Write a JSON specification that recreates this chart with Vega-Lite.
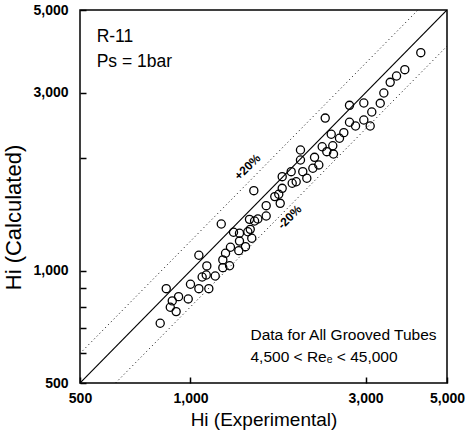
{
  "$schema": "https://vega.github.io/schema/vega-lite/v6.json",
  "width": 367,
  "height": 373,
  "autosize": {"type": "none"},
  "padding": {"left": 80, "top": 10, "right": 22, "bottom": 52},
  "background": "#ffffff",
  "config": {
    "font": "Liberation Sans",
    "view": {"stroke": "#000000", "strokeWidth": 1.5},
    "axis": {"grid": false, "domain": false}
  },
  "datasets": {
    "points": [
      {"exp": 827, "calc": 723}, {"exp": 859, "calc": 895}, {"exp": 881, "calc": 798},
      {"exp": 892, "calc": 830}, {"exp": 914, "calc": 777}, {"exp": 928, "calc": 852},
      {"exp": 986, "calc": 840}, {"exp": 1000, "calc": 920}, {"exp": 1054, "calc": 1100},
      {"exp": 1054, "calc": 895}, {"exp": 1076, "calc": 962}, {"exp": 1108, "calc": 1030},
      {"exp": 1104, "calc": 974}, {"exp": 1122, "calc": 895}, {"exp": 1168, "calc": 968},
      {"exp": 1213, "calc": 1334}, {"exp": 1225, "calc": 1019}, {"exp": 1225, "calc": 1069},
      {"exp": 1246, "calc": 1114}, {"exp": 1278, "calc": 1031}, {"exp": 1285, "calc": 1156},
      {"exp": 1310, "calc": 1268}, {"exp": 1354, "calc": 1132}, {"exp": 1360, "calc": 1201},
      {"exp": 1360, "calc": 1260}, {"exp": 1412, "calc": 1160}, {"exp": 1433, "calc": 1272},
      {"exp": 1448, "calc": 1373}, {"exp": 1469, "calc": 1222}, {"exp": 1455, "calc": 1291},
      {"exp": 1488, "calc": 1639}, {"exp": 1495, "calc": 1359}, {"exp": 1526, "calc": 1376},
      {"exp": 1608, "calc": 1402}, {"exp": 1608, "calc": 1494}, {"exp": 1697, "calc": 1580},
      {"exp": 1740, "calc": 1603}, {"exp": 1756, "calc": 1516}, {"exp": 1778, "calc": 1663},
      {"exp": 1778, "calc": 1787}, {"exp": 1881, "calc": 1843}, {"exp": 1893, "calc": 1716},
      {"exp": 1941, "calc": 1732}, {"exp": 1994, "calc": 2107}, {"exp": 1994, "calc": 1981},
      {"exp": 2023, "calc": 1843}, {"exp": 2075, "calc": 1770}, {"exp": 2155, "calc": 1882},
      {"exp": 2178, "calc": 2014}, {"exp": 2237, "calc": 1921}, {"exp": 2285, "calc": 2150},
      {"exp": 2329, "calc": 2566}, {"exp": 2352, "calc": 2085}, {"exp": 2418, "calc": 2322},
      {"exp": 2442, "calc": 2163}, {"exp": 2453, "calc": 2055}, {"exp": 2547, "calc": 2265},
      {"exp": 2617, "calc": 2345}, {"exp": 2712, "calc": 2776}, {"exp": 2712, "calc": 2500},
      {"exp": 2817, "calc": 2443}, {"exp": 2967, "calc": 2816}, {"exp": 2967, "calc": 2536},
      {"exp": 3088, "calc": 2443}, {"exp": 3119, "calc": 2664}, {"exp": 3289, "calc": 2811},
      {"exp": 3364, "calc": 2996}, {"exp": 3501, "calc": 3200}, {"exp": 3643, "calc": 3327},
      {"exp": 3837, "calc": 3459}, {"exp": 4242, "calc": 3842}
    ],
    "lines": [
      {"band": "equal", "exp": 500, "calc": 500},
      {"band": "equal", "exp": 5000, "calc": 5000},
      {"band": "plus20", "exp": 500, "calc": 600},
      {"band": "plus20", "exp": 4167, "calc": 5000},
      {"band": "minus20", "exp": 625, "calc": 500},
      {"band": "minus20", "exp": 5000, "calc": 4000}
    ]
  },
  "layer": [
    {
      "data": {"name": "lines"},
      "transform": [{"filter": "datum.band == 'equal'"}],
      "mark": {"type": "line", "color": "#000000", "strokeWidth": 1.2, "clip": true},
      "encoding": {
        "x": {
          "field": "exp", "type": "quantitative",
          "scale": {"type": "log", "domain": [500, 5000], "nice": false},
          "axis": {
            "title": "Hi (Experimental)",
            "values": [500, 1000, 3000, 5000],
            "format": ",d",
            "labelFontWeight": "bold", "labelFontSize": 14, "labelColor": "#000000",
            "labelFlush": false, "labelOverlap": false,
            "tickColor": "#000000", "tickSize": -6, "tickWidth": 1.5,
            "labelPadding": 14,
            "titleFontSize": 19, "titleFontWeight": "normal", "titleColor": "#000000",
            "titlePadding": 5
          }
        },
        "y": {
          "field": "calc", "type": "quantitative",
          "scale": {"type": "log", "domain": [500, 5000], "nice": false},
          "axis": {
            "title": "Hi (Calculated)",
            "values": [500, 600, 700, 800, 900, 1000, 2000, 3000, 5000],
            "labelExpr": "(datum.value == 500 || datum.value == 1000 || datum.value == 3000 || datum.value == 5000) ? format(datum.value, ',d') : ''",
            "labelFontWeight": "bold", "labelFontSize": 14, "labelColor": "#000000",
            "labelFlush": false, "labelOverlap": false,
            "tickColor": "#000000", "tickSize": -6, "tickWidth": 1.5,
            "labelPadding": 18,
            "titleFontSize": 22, "titleFontWeight": "normal", "titleColor": "#000000",
            "titlePadding": 7, "titleY": 207
          }
        }
      }
    },
    {
      "data": {"name": "lines"},
      "transform": [{"filter": "datum.band != 'equal'"}],
      "mark": {"type": "line", "color": "#000000", "strokeWidth": 1, "strokeDash": [1, 3], "clip": true},
      "encoding": {
        "x": {"field": "exp", "type": "quantitative", "scale": {"type": "log", "domain": [500, 5000], "nice": false}},
        "y": {"field": "calc", "type": "quantitative", "scale": {"type": "log", "domain": [500, 5000], "nice": false}},
        "detail": {"field": "band"}
      }
    },
    {
      "data": {"name": "points"},
      "mark": {"type": "point", "shape": "circle", "filled": false, "color": "#000000", "strokeWidth": 1.3, "size": 66, "opacity": 1},
      "encoding": {
        "x": {"field": "exp", "type": "quantitative", "scale": {"type": "log", "domain": [500, 5000], "nice": false}},
        "y": {"field": "calc", "type": "quantitative", "scale": {"type": "log", "domain": [500, 5000], "nice": false}}
      }
    },
    {
      "data": {"values": [{"label": "R-11"}]},
      "mark": {"type": "text", "align": "left", "baseline": "middle", "fontSize": 17.5, "color": "#000000"},
      "encoding": {
        "x": {"datum": 555, "type": "quantitative"},
        "y": {"datum": 4233, "type": "quantitative"},
        "text": {"field": "label"}
      }
    },
    {
      "data": {"values": [{"label": "Ps = 1bar"}]},
      "mark": {"type": "text", "align": "left", "baseline": "middle", "fontSize": 17.5, "color": "#000000"},
      "encoding": {
        "x": {"datum": 555, "type": "quantitative"},
        "y": {"datum": 3627, "type": "quantitative"},
        "text": {"field": "label"}
      }
    },
    {
      "data": {"values": [{"label": "Data for All Grooved Tubes"}]},
      "mark": {"type": "text", "align": "left", "baseline": "middle", "fontSize": 15.5, "color": "#000000"},
      "encoding": {
        "x": {"datum": 1457, "type": "quantitative"},
        "y": {"datum": 672, "type": "quantitative"},
        "text": {"field": "label"}
      }
    },
    {
      "data": {"values": [{"label": "4,500 < Reₑ < 45,000"}]},
      "mark": {"type": "text", "align": "left", "baseline": "middle", "fontSize": 15.5, "color": "#000000"},
      "encoding": {
        "x": {"datum": 1457, "type": "quantitative"},
        "y": {"datum": 587, "type": "quantitative"},
        "text": {"field": "label"}
      }
    },
    {
      "data": {"values": [{"label": "+20%"}]},
      "mark": {"type": "text", "align": "center", "baseline": "middle", "fontSize": 12, "fontWeight": "bold", "angle": -45, "color": "#000000"},
      "encoding": {
        "x": {"datum": 1430, "type": "quantitative"},
        "y": {"datum": 1897, "type": "quantitative"},
        "text": {"field": "label"}
      }
    },
    {
      "data": {"values": [{"label": "-20%"}]},
      "mark": {"type": "text", "align": "center", "baseline": "middle", "fontSize": 12, "fontWeight": "bold", "angle": -45, "color": "#000000"},
      "encoding": {
        "x": {"datum": 1861, "type": "quantitative"},
        "y": {"datum": 1393, "type": "quantitative"},
        "text": {"field": "label"}
      }
    }
  ]
}
